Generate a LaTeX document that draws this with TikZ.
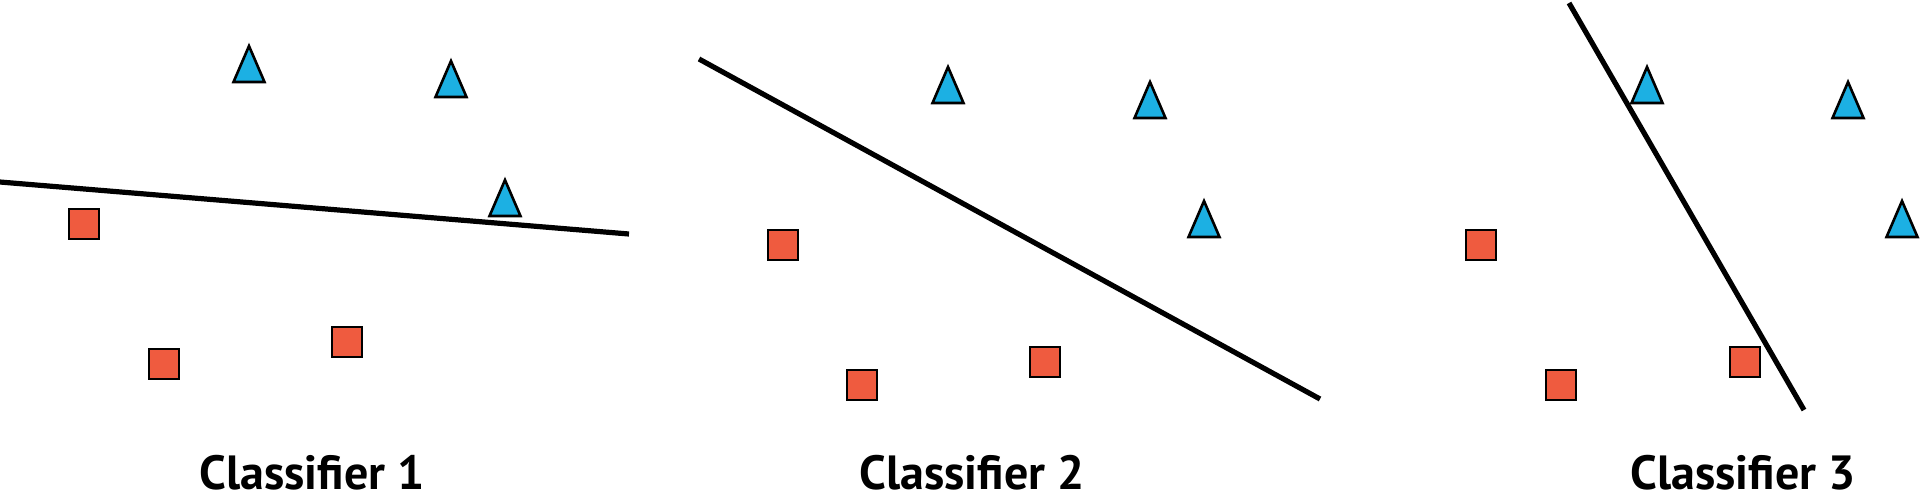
\documentclass[tikz,border=0pt]{standalone}
\usepackage{fontspec}
\setmainfont{PT Sans}
\usepackage{tikz}
\definecolor{triblue}{HTML}{1CB0E3}
\definecolor{sqorange}{HTML}{EF5B3F}

\begin{document}
\begin{tikzpicture}[x=0.5pt, y=-0.5pt,
	sq/.style={draw=black, fill=sqorange, line width=1.3pt, inner sep=0pt, minimum size=15pt},
	tri/.style={draw=black, fill=triblue, line width=1.3pt, line join=miter},
	border/.style={line width=2.6pt},
	caption/.style={font=\fontsize{24}{28}\selectfont\bfseries, anchor=base, inner sep=0pt}]
	\useasboundingbox (0,0) rectangle (1920,500);
	% classifier 1
	\coordinate (b1a) at (0,182); \coordinate (b1b) at (629,234);
	\draw[border] (b1a) -- (b1b);
	\coordinate (t1a) at (249,82); \coordinate (t1b) at (451,97); \coordinate (t1c) at (505,216);
	\draw[tri] (t1a) ++(-15.5,0) -- ++(15.5,-36) -- ++(15.5,36) -- cycle;
	\draw[tri] (t1b) ++(-15.5,0) -- ++(15.5,-36) -- ++(15.5,36) -- cycle;
	\draw[tri] (t1c) ++(-15.5,0) -- ++(15.5,-36) -- ++(15.5,36) -- cycle;
	\node[sq] (s1a) at (84,224) {};
	\node[sq] (s1b) at (164,364) {};
	\node[sq] (s1c) at (347,342) {};
	\node[caption] (c1) at (312,489) {Classifier 1};
	% classifier 2
	\coordinate (b2a) at (699,59); \coordinate (b2b) at (1320,399);
	\draw[border] (b2a) -- (b2b);
	\coordinate (t2a) at (948,103); \coordinate (t2b) at (1150,118); \coordinate (t2c) at (1204,237);
	\draw[tri] (t2a) ++(-15.5,0) -- ++(15.5,-36) -- ++(15.5,36) -- cycle;
	\draw[tri] (t2b) ++(-15.5,0) -- ++(15.5,-36) -- ++(15.5,36) -- cycle;
	\draw[tri] (t2c) ++(-15.5,0) -- ++(15.5,-36) -- ++(15.5,36) -- cycle;
	\node[sq] (s2a) at (783,245) {};
	\node[sq] (s2b) at (862,385) {};
	\node[sq] (s2c) at (1045,362) {};
	\node[caption] (c2) at (972,489) {Classifier 2};
	% classifier 3
	\coordinate (b3a) at (1569,3); \coordinate (b3b) at (1804,410);
	\draw[border] (b3a) -- (b3b);
	\coordinate (t3a) at (1647,103); \coordinate (t3b) at (1848,118); \coordinate (t3c) at (1902,237);
	\draw[tri] (t3a) ++(-15.5,0) -- ++(15.5,-36) -- ++(15.5,36) -- cycle;
	\draw[tri] (t3b) ++(-15.5,0) -- ++(15.5,-36) -- ++(15.5,36) -- cycle;
	\draw[tri] (t3c) ++(-15.5,0) -- ++(15.5,-36) -- ++(15.5,36) -- cycle;
	\node[sq] (s3a) at (1481,245) {};
	\node[sq] (s3b) at (1561,385) {};
	\node[sq] (s3c) at (1745,362) {};
	\node[caption] (c3) at (1743,489) {Classifier 3};
\end{tikzpicture}
\end{document}
